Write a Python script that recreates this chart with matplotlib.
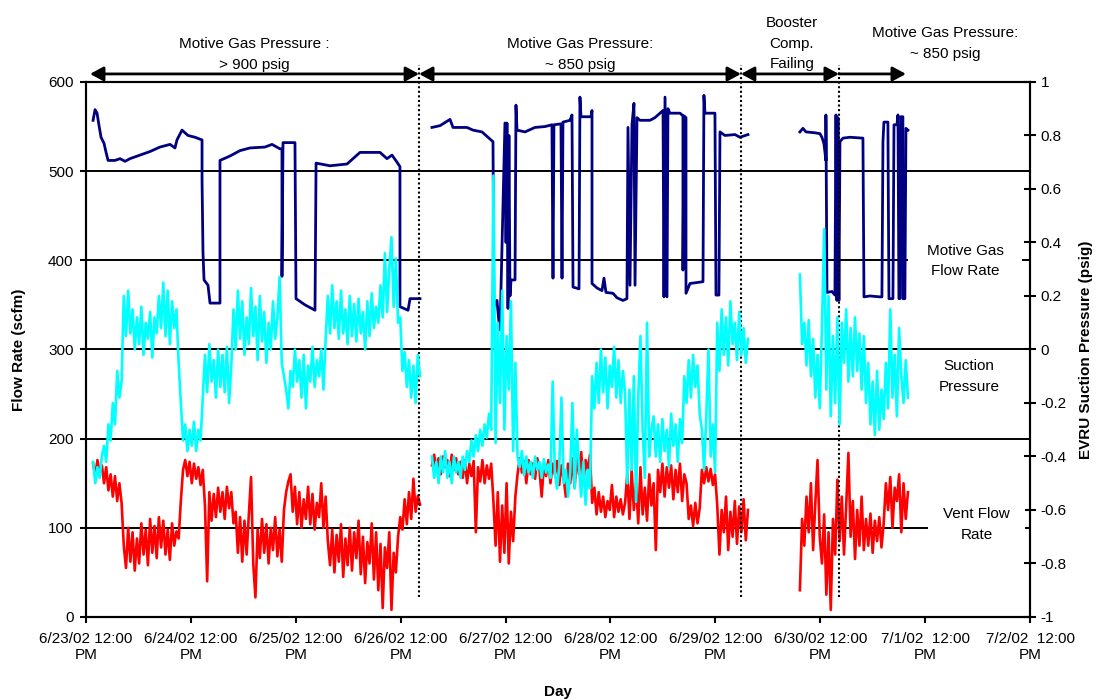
import numpy as np
import matplotlib

matplotlib.use("Agg")
import matplotlib.pyplot as plt

plt.rcParams["font.family"] = ["Liberation Sans", "DejaVu Sans"]
plt.rcParams["font.size"] = 11
plt.rcParams["axes.unicode_minus"] = False

# time axis: days after 6/23/02 12:00 PM
day_labels = [
    "6/23/02 12:00\nPM", "6/24/02 12:00\nPM", "6/25/02 12:00\nPM",
    "6/26/02 12:00\nPM", "6/27/02 12:00\nPM", "6/28/02 12:00\nPM",
    "6/29/02 12:00\nPM", "6/30/02 12:00\nPM", "7/1/02  12:00\nPM",
    "7/2/02  12:00\nPM",
]

# logged periods (start, end) in days
seg_spans = [(0.067, 3.184), (3.298, 6.311), (6.806, 7.836)]

# motive gas flow rate (scfm), step-like record
motive_t1 = [0.067, 0.086, 0.105, 0.124, 0.143, 0.172, 0.191, 0.210, 0.276, 0.324,
             0.372, 0.419, 0.515, 0.610, 0.705, 0.801, 0.848, 0.867, 0.915, 0.972,
             1.039, 1.106, 1.106, 1.115, 1.125, 1.163, 1.182, 1.277, 1.277, 1.373,
             1.468, 1.563, 1.706, 1.773, 1.849, 1.868, 1.868, 1.878, 1.992, 2.002,
             2.088, 2.183, 2.193, 2.326, 2.488, 2.612, 2.803, 2.869, 2.917, 2.965,
             2.993, 2.993, 3.070, 3.089, 3.184]
motive_v1 = [557, 569, 565, 551, 538, 531, 521, 512, 512, 514,
             511, 514, 518, 522, 527, 530, 526, 535, 546, 540,
             538, 535, 490, 409, 378, 372, 352, 352, 512, 517,
             523, 526, 527, 530, 525, 525, 382, 532, 532, 357,
             350, 344, 509, 506, 508, 521, 521, 514, 518, 510,
             505, 348, 344, 357, 357]
motive_t2 = [3.298, 3.375, 3.470, 3.499, 3.632, 3.689, 3.775, 3.832, 3.880, 3.889,
             3.918, 3.937, 3.947, 3.994, 4.004, 4.013, 4.023, 4.032, 4.042, 4.052,
             4.090, 4.099, 4.109, 4.185, 4.280, 4.376, 4.442, 4.452, 4.461, 4.528,
             4.538, 4.547, 4.614, 4.633, 4.643, 4.700, 4.709, 4.719, 4.814, 4.824,
             4.824, 4.871, 4.919, 4.938, 4.957, 5.024, 5.062, 5.119, 5.157, 5.167,
             5.186, 5.205, 5.224, 5.234, 5.253, 5.281, 5.377, 5.424, 5.472, 5.501,
             5.510, 5.520, 5.539, 5.548, 5.567, 5.663, 5.691, 5.691, 5.701, 5.720,
             5.720, 5.758, 5.882, 5.891, 5.901, 5.996, 6.006, 6.034, 6.044, 6.091,
             6.187, 6.234, 6.311]
motive_v2 = [549, 551, 558, 549, 549, 546, 544, 538, 533, 348,
             355, 330, 322, 554, 420, 554, 346, 540, 360, 378,
             378, 574, 546, 544, 549, 550, 552, 380, 552, 553,
             380, 555, 557, 563, 370, 368, 583, 561, 561, 568,
             374, 369, 366, 380, 364, 363, 358, 355, 357, 549,
             372, 552, 576, 372, 560, 557, 557, 560, 565, 568,
             359, 583, 359, 570, 565, 565, 562, 389, 562, 560,
             363, 374, 376, 585, 565, 565, 361, 361, 544, 540,
             541, 538, 541]
motive_t3 = [6.806, 6.835, 6.864, 6.950, 6.997, 7.016, 7.035, 7.054, 7.054, 7.064,
             7.112, 7.140, 7.150, 7.159, 7.169, 7.178, 7.188, 7.216, 7.283, 7.407,
             7.417, 7.474, 7.569, 7.588, 7.598, 7.607, 7.645, 7.655, 7.693, 7.703,
             7.731, 7.741, 7.750, 7.760, 7.769, 7.788, 7.788, 7.807, 7.817, 7.836]
motive_v3 = [544, 548, 544, 543, 542, 538, 531, 512, 563, 364,
             365, 361, 563, 355, 560, 355, 533, 537, 538, 537,
             359, 360, 359, 359, 533, 555, 555, 357, 357, 552,
             552, 563, 357, 357, 561, 561, 357, 357, 548, 546]

# vent flow rate (scfm), evenly logged within each period
vent_1 = [172, 158, 176, 162, 170, 150, 168, 142, 160, 135,
          158, 130, 150, 128, 80, 55, 100, 62, 95, 52,
          88, 60, 105, 70, 98, 58, 110, 72, 102, 66,
          112, 78, 108, 70, 98, 64, 105, 80, 96, 88,
          130, 165, 176, 158, 174, 150, 172, 155, 168, 148,
          165, 125, 40, 140, 108, 138, 112, 145, 118, 140,
          110, 146, 122, 140, 105, 118, 72, 112, 62, 108,
          70, 115, 157, 60, 22, 98, 66, 110, 72, 104,
          60, 100, 75, 112, 68, 98, 62, 120, 140, 152,
          160, 118, 146, 104, 140, 100, 132, 110, 146, 104,
          138, 98, 128, 112, 150, 100, 135, 85, 58, 98,
          50, 92, 62, 104, 45, 88, 58, 100, 52, 95,
          66, 108, 48, 90, 38, 84, 60, 105, 42, 95,
          30, 82, 10, 78, 55, 95, 8, 72, 50, 90,
          112, 98, 132, 104, 140, 110, 155, 118, 136, 126]
vent_2 = [170, 182, 164, 178, 160, 180, 168, 176, 158, 182,
          165, 178, 160, 174, 156, 176, 150, 172, 158, 175,
          95, 168, 152, 176, 150, 170, 155, 172, 130, 80,
          140, 62, 125, 72, 150, 60, 118, 85, 135, 160,
          178, 162, 175, 150, 176, 160, 172, 155, 178, 165,
          135, 170, 158, 176, 150, 172, 160, 175, 148, 170,
          155, 135, 172, 150, 178, 145, 180, 160, 185, 150,
          176, 165, 182, 128, 145, 115, 140, 118, 135, 112,
          130, 120, 148, 112, 135, 118, 132, 115, 128, 160,
          110, 165, 120, 150, 105, 168, 115, 145, 108, 160,
          125, 150, 75, 165, 140, 172, 135, 168, 145, 170,
          132, 165, 140, 172, 130, 160, 150, 110, 125, 102,
          128, 105, 122, 165, 150, 168, 152, 166, 148, 160,
          125, 70, 120, 95, 135, 75, 118, 90, 130, 82,
          124, 95, 132, 86, 120]
vent_3 = [30, 110, 80, 135, 95, 150, 75, 128, 176, 90,
          60, 115, 25, 95, 8, 110, 70, 154, 85, 135,
          70, 125, 184, 90, 130, 65, 120, 80, 135, 75,
          110, 80, 116, 72, 108, 85, 112, 78, 105, 150,
          120, 157, 100, 145, 130, 160, 95, 150, 110, 140]

# EVRU suction pressure (psig)
suction_1 = [-0.42, -0.50, -0.44, -0.48, -0.40, -0.36, -0.42, -0.28, -0.34, -0.20,
             -0.28, -0.08, -0.18, -0.12, 0.20, 0.05, 0.22, 0.06, 0.15, 0.00,
             0.12, 0.02, 0.16, -0.02, 0.10, 0.04, 0.14, -0.03, 0.12, 0.06,
             0.20, 0.08, 0.25, 0.05, 0.22, 0.02, 0.18, 0.08, 0.15, -0.05,
             -0.20, -0.34, -0.28, -0.38, -0.30, -0.36, -0.27, -0.38, -0.30, -0.34,
             -0.18, -0.02, -0.16, 0.02, -0.12, -0.04, -0.18, 0.00, -0.14, -0.02,
             -0.16, 0.01, -0.20, -0.06, 0.15, 0.00, 0.22, 0.04, 0.18, -0.02,
             0.12, 0.02, 0.23, 0.05, 0.16, -0.04, 0.20, 0.03, 0.14, -0.05,
             0.10, 0.00, 0.18, 0.04, 0.12, 0.27, -0.05, -0.10, -0.15, -0.22,
             -0.08, -0.14, 0.00, -0.12, -0.04, -0.18, -0.02, -0.22, -0.06, -0.12,
             0.01, -0.14, -0.04, -0.10, 0.00, -0.15, 0.04, 0.20, 0.06, 0.24,
             0.08, 0.18, 0.04, 0.22, 0.06, 0.15, 0.02, 0.20, 0.05, 0.17,
             0.03, 0.19, 0.06, 0.14, 0.00, 0.18, 0.05, 0.21, 0.08, 0.16,
             0.10, 0.24, 0.12, 0.36, 0.14, 0.30, 0.42, 0.16, 0.34, 0.10,
             0.12, -0.08, -0.01, -0.14, -0.04, -0.18, -0.06, -0.20, -0.02, -0.10]
suction_2 = [-0.40, -0.48, -0.42, -0.50, -0.40, -0.46, -0.38, -0.48, -0.42, -0.50,
             -0.40, -0.46, -0.42, -0.48, -0.40, -0.45, -0.38, -0.42, -0.34, -0.40,
             -0.32, -0.38, -0.30, -0.36, -0.28, -0.33, -0.24, -0.30, 0.65, -0.35,
             0.10, -0.20, 0.22, -0.30, 0.05, -0.15, 0.18, -0.38, -0.05, -0.40,
             -0.44, -0.38, -0.47, -0.40, -0.46, -0.42, -0.48, -0.40, -0.45, -0.42,
             -0.48, -0.41, -0.46, -0.43, -0.48, -0.12, -0.46, -0.52, -0.44, -0.18,
             -0.50, -0.45, -0.55, -0.46, -0.20, -0.52, -0.30, -0.44, -0.55, -0.42,
             -0.58, -0.45, -0.52, -0.10, -0.22, -0.05, -0.20, 0.00, -0.16, -0.03,
             -0.22, -0.06, -0.14, 0.01, -0.18, -0.04, -0.20, -0.08, -0.16, -0.50,
             -0.15, -0.45, -0.10, -0.57, -0.18, 0.05, -0.30, -0.48, 0.10, -0.40,
             -0.30, -0.25, -0.40, -0.28, -0.42, -0.26, -0.38, -0.30, -0.44, -0.24,
             -0.36, -0.28, -0.42, -0.26, -0.35, -0.10, -0.20, -0.04, -0.18, -0.02,
             -0.14, -0.06, -0.24, -0.30, -0.45, -0.25, 0.00, -0.40, -0.28, -0.46,
             0.10, -0.08, 0.15, -0.02, 0.12, -0.06, 0.18, 0.02, 0.10, -0.04,
             0.14, -0.02, 0.08, -0.05, 0.04]
suction_3 = [0.28, 0.02, 0.10, -0.06, 0.11, -0.10, 0.04, -0.18, -0.02, -0.22,
             0.08, 0.45, -0.15, 0.20, -0.25, 0.05, -0.20, 0.12, -0.28, 0.10,
             -0.05, 0.15, -0.12, 0.08, -0.10, 0.12, -0.08, 0.06, -0.15, 0.05,
             -0.20, -0.05, -0.28, -0.12, -0.32, -0.08, -0.30, -0.15, -0.26, -0.05,
             -0.22, 0.15, -0.18, -0.02, -0.25, 0.08, -0.10, -0.20, -0.04, -0.18]

# operating phases shown above the plot
phase_bounds = [3.175, 6.244, 7.178]
phase_arrows = [(0.038, 3.175, "<|-|>"), (3.175, 6.244, "<|-|>"),
                (6.244, 7.178, "<|-|>"), (7.178, 7.817, "-|>")]
phase_texts = [(1.60, 631, "Motive Gas Pressure :\n> 900 psig"),
               (4.71, 631, "Motive Gas Pressure:\n~ 850 psig"),
               (6.73, 643, "Booster\nComp.\nFailing"),
               (8.19, 643, "Motive Gas Pressure:\n~ 850 psig")]


def even_segments(spans, parts):
    t_all, v_all = [], []
    for (t0, t1), vals in zip(spans, parts):
        t_all += list(np.linspace(t0, t1, len(vals))) + [np.nan]
        v_all += list(vals) + [np.nan]
    return np.array(t_all), np.array(v_all, dtype=float)


def join_records(parts):
    t_all, v_all = [], []
    for t, v in parts:
        t_all += list(t) + [np.nan]
        v_all += list(v) + [np.nan]
    return np.array(t_all), np.array(v_all, dtype=float)


t_vent, vent = even_segments(seg_spans, [vent_1, vent_2, vent_3])
t_suct, suction = even_segments(seg_spans, [suction_1, suction_2, suction_3])
t_mot, motive = join_records([(motive_t1, motive_v1), (motive_t2, motive_v2),
                              (motive_t3, motive_v3)])

fig = plt.figure(figsize=(10.96, 7.0), dpi=100)
ax = fig.add_axes([0.0785, 0.1186, 0.8613, 0.7643])
ax2 = ax.twinx()

ax.plot(t_vent, vent, color="#FF0000", lw=1.9, zorder=3)
ax.plot(t_mot, motive, color="#000080", lw=2.0, zorder=4)
ax2.plot(t_suct, suction, color="#00FFFF", lw=1.9, zorder=3)

ax.set_xlim(0, 9)
ax.set_ylim(0, 600)
ax2.set_ylim(-1, 1)

ax.set_xticks(range(len(day_labels)))
ax.set_xticklabels(day_labels)
ax.set_yticks(range(0, 601, 100))
r_ticks = np.round(np.arange(-1, 1.01, 0.2), 1)
ax2.set_yticks(r_ticks)
ax2.set_yticklabels(["0" if abs(v) < 1e-9 else "%g" % v for v in r_ticks])

ax.yaxis.grid(True, color="black", lw=1.4)
ax.set_axisbelow(True)

for a in (ax, ax2):
    for s in a.spines.values():
        s.set_linewidth(1.5)
ax.tick_params(axis="x", direction="out", length=4, width=1.5, pad=7)
ax.tick_params(axis="y", direction="out", length=4, width=1.5, pad=5)
ax2.tick_params(axis="y", direction="inout", length=9, width=1.5, pad=3)

ax.set_xlabel("Day", fontweight="bold", labelpad=16)
ax.set_ylabel("Flow Rate (scfm)", fontweight="bold", labelpad=16)
ax2.set_ylabel("EVRU Suction Pressure (psig)", fontweight="bold", labelpad=9)

# phase dividers, arrows and notes
for b in phase_bounds:
    ax.plot([b, b], [22, 619], color="black", lw=1.5, ls=(0, (1, 1.2)),
            clip_on=False, zorder=5)
for x0, x1, style in phase_arrows:
    ax.annotate("", xy=(x1, 609), xytext=(x0, 609), annotation_clip=False,
                arrowprops=dict(arrowstyle=style + ",head_length=0.5,head_width=0.27",
                                color="black", lw=2, mutation_scale=16,
                                shrinkA=0, shrinkB=0))
for x, y, txt in phase_texts:
    ax.text(x, y, txt, ha="center", va="center", linespacing=1.6)

# series notes on the right
ax2.text(8.38, (399 - 300) / 300, "Motive Gas\nFlow Rate", ha="center",
         va="center", linespacing=1.6, zorder=10,
         bbox=dict(boxstyle="square,pad=1.2", fc="white", ec="none"))
ax2.text(8.42, (270 - 300) / 300, "Suction\nPressure", ha="center", va="center",
         linespacing=1.6, zorder=10)
ax2.text(8.49, (104 - 300) / 300, "Vent Flow\nRate", ha="center", va="center",
         linespacing=1.6, zorder=10,
         bbox=dict(boxstyle="square,pad=1.0", fc="white", ec="none"))

fig.savefig("out.png", dpi=100)
